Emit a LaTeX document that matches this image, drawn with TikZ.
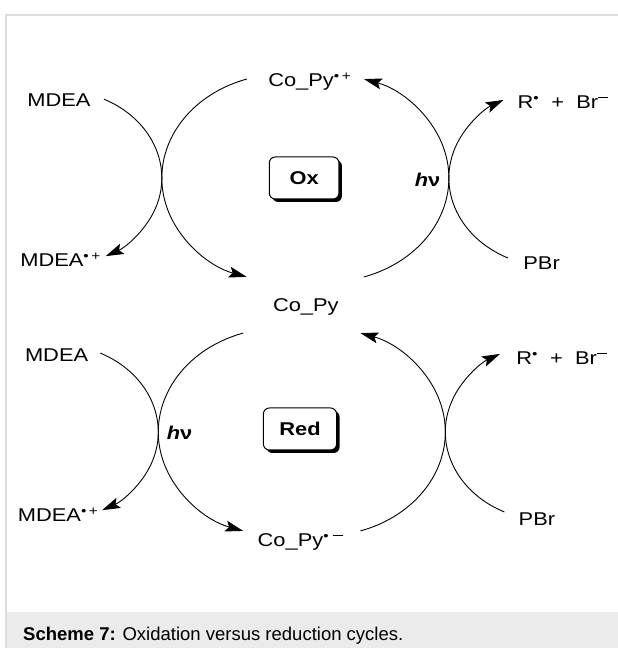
\documentclass[tikz,border=0pt]{standalone}
\usepackage{fontspec}
\setmainfont{Liberation Sans}
\usetikzlibrary{arrows.meta,calc,shadows}
\definecolor{framegray}{HTML}{DDDDDD}
\definecolor{capgray}{HTML}{EBEBEB}
\newcommand{\rdot}{\textsuperscript{\textbullet}}
\newcommand{\negbar}{\raisebox{0.6em}{\rule{0.45em}{1.3pt}}}
\begin{document}
\begin{tikzpicture}[x=1pt,y=1pt,
  lab/.style={inner sep=0pt, anchor=base west, font=\fontsize{18.5}{20}\selectfont},
  hvlab/.style={inner sep=0pt, font=\fontsize{18.5}{20}\selectfont\bfseries},
  arr/.style={-{Stealth[length=18pt,width=11pt,inset=3.5pt]}, line width=0.9pt},
  cyclebox/.style={draw, line width=1pt, rounded corners=6pt, fill=white,
    minimum width=59pt, minimum height=42pt, inner sep=0pt,
    font=\fontsize{18.5}{20}\selectfont\bfseries,
    drop shadow={shadow xshift=3pt, shadow yshift=-3pt, opacity=1, fill=black}}]
\useasboundingbox (0,0) rectangle (618,648);
% frame and caption band
\fill[capgray] (7,0) rectangle (618,36);
\draw[framegray, line width=1.5pt] (6,0) -- (6,633) -- (618,633);
\node[inner sep=0pt, anchor=base west, font=\fontsize{18.5}{20}\selectfont] (cap) at (23,8)
  {\textbf{Scheme 7:} Oxidation versus reduction cycles.};

\begin{scope}[xscale=1.181, transform shape]
% ---------- Oxidation cycle ----------
\node[lab] (oCoPyp) at (227,561) {Co\_Py\textsuperscript{\textbullet\,+}};
\node[lab] (oMDEA) at (23,541) {MDEA};
\node[lab] (oRBr) at (438,539) {R\rdot\ \ +\ \ Br\negbar};
\node[lab] (oMDEAp) at (17,381) {MDEA\textsuperscript{\textbullet\,+}};
\node[lab] (oPBr) at (443,378) {PBr};
\node[lab] (oCoPy) at (231,336) {Co\_Py};
\node[cyclebox] (ox) at (257.5,470) {Ox};
\node[hvlab] (ohv) at (362,468) {\textit{h}ν};

\coordinate (oL1) at ($(241,470)+(108:104pt)$);
\coordinate (oR1) at ($(276,470)+(-72:104pt)$);
\coordinate (oM1) at ($(49,470)+(63.7:88pt)$);
\coordinate (oP1) at ($(469,470)+(244:89pt)$);
\draw[arr] (oL1) arc[start angle=108, end angle=252, radius=104pt];
\draw[arr] (oR1) arc[start angle=-72, end angle=72, radius=104pt];
\draw[arr] (oM1) arc[start angle=63.7, end angle=-62.6, radius=88pt];
\draw[arr] (oP1) arc[start angle=244, end angle=118.7, radius=89pt];

% ---------- Reduction cycle ----------
\node[lab] (rMDEA) at (21,286) {MDEA};
\node[lab] (rMDEAp) at (15,126) {MDEA\textsuperscript{\textbullet\,+}};
\node[lab] (rCoPym) at (218,101) {Co\_Py\textsuperscript{\textbullet}\,\negbar};
\node[lab] (rRBr) at (437,283) {R\rdot\ \ +\ \ Br\negbar};
\node[lab] (rPBr) at (439,122) {PBr};
\node[cyclebox, minimum width=62pt] (red) at (254,219) {Red};
\node[hvlab] (rhv) at (152,215) {\textit{h}ν};

\coordinate (rL1) at ($(238,216)+(108:104pt)$);
\coordinate (rR1) at ($(273,216)+(-72:104pt)$);
\coordinate (rM1) at ($(46,216)+(63.7:88pt)$);
\coordinate (rP1) at ($(466,216)+(244:89pt)$);
\draw[arr] (rL1) arc[start angle=108, end angle=252, radius=104pt];
\draw[arr] (rR1) arc[start angle=-72, end angle=72, radius=104pt];
\draw[arr] (rM1) arc[start angle=63.7, end angle=-62.6, radius=88pt];
\draw[arr] (rP1) arc[start angle=244, end angle=118.7, radius=89pt];
\end{scope}
\end{tikzpicture}
\end{document}
